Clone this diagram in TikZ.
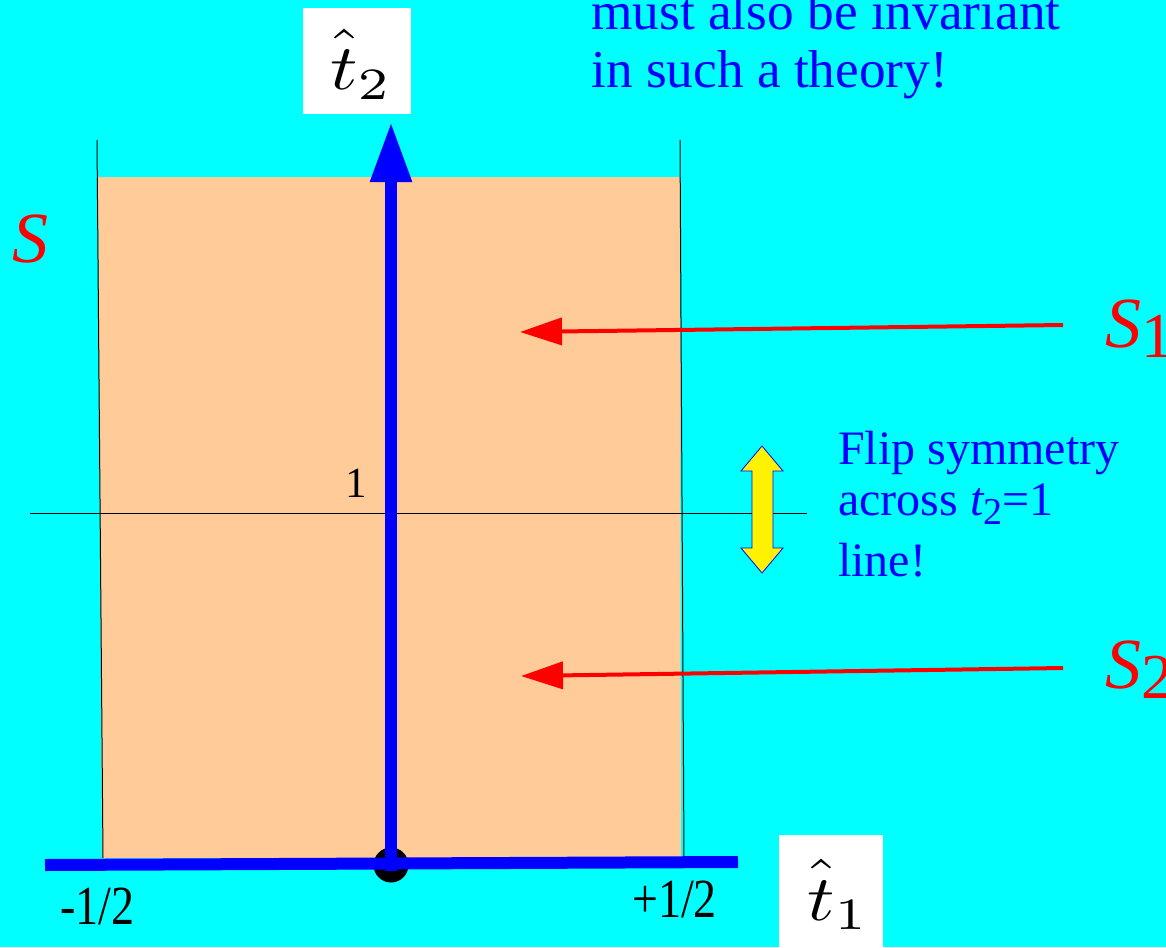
\documentclass[tikz,border=0pt]{standalone}
\usepackage{fontspec}
\newfontfamily\lib{Liberation Serif}
\usetikzlibrary{arrows.meta}
\definecolor{bgcyan}{RGB}{0,255,255}
\definecolor{peach}{RGB}{255,204,153}
\definecolor{pblue}{RGB}{0,0,255}
\definecolor{pred}{RGB}{255,0,0}
\tikzset{
  thinline/.style={black, line width=1pt},
  axisline/.style={pblue, line width=11.5pt},
  redarrow/.style={pred, line width=4pt, -{Triangle[length=42pt,width=27pt]}},
  bluetext/.style={pblue, anchor=base west, inner sep=0pt, font=\lib\fontsize{53.3}{60}\selectfont},
  fliptext/.style={pblue, anchor=base west, inner sep=0pt, font=\lib\fontsize{48}{56}\selectfont},
  redlabel/.style={pred, anchor=base west, inner sep=0pt, font=\lib\fontsize{72}{72}\selectfont\itshape},
  numlabel/.style={black, anchor=base west, inner sep=0pt, font=\lib\fontsize{46}{46}\selectfont},
  whitebox/.style={fill=white, draw=none},
  mathlabel/.style={black, anchor=base west, inner sep=0pt, xscale=7.6, yscale=6.4}
}
\begin{document}
\begin{tikzpicture}[x=1pt,y=-1pt]
\useasboundingbox (0,0) rectangle (1166,947);
\clip (0,0) rectangle (1166,947);
\fill[bgcyan] (0,0) rectangle (1166,947);
% peach region
\fill[peach] (98,177) -- (680,177) -- (681,858) -- (102,858) -- cycle;
% thin lines
\draw[thinline] (97,140) -- (103,858);
\draw[thinline] (680,140) -- (684,858);
\coordinate (hl) at (30,513);
\coordinate (hr) at (807,513);
\draw[thinline] (hl) -- (hr);
% origin dot
\coordinate (origin) at (391,865);
\fill[black] (origin) circle (17.5);
% axes
\coordinate (t2base) at (391,871);
\coordinate (t2top) at (391,122);
\draw[axisline, -{Triangle[length=60pt,width=39pt]}] (t2base) -- (t2top);
\coordinate (t1left) at (45,865);
\coordinate (t1right) at (738,862);
\draw[axisline, line width=12pt] (t1left) -- (t1right);
% axis label boxes
\fill[whitebox] (303,8) rectangle (411,114);
\node[mathlabel] (t2lab) at (329,90) {$\hat{\vphantom{T}\smash{t}}_2$};
\fill[whitebox] (779,835) rectangle (883,947);
\node[mathlabel] (t1lab) at (806,920) {$\hat{\vphantom{T}\smash{t}}_1$};
% numbers
\node[numlabel, font=\lib\fontsize{43}{43}\selectfont] (one) at (345,497) {1};
\node[numlabel, yscale=1.2] (mhalf) at (60,924) {-1/2};
\node[numlabel, yscale=1.2] (phalf) at (632,917) {+1/2};
% S labels
\node[redlabel] (S) at (12,262) {S};
\node[redlabel] (S1) at (1105,347) {S\raisebox{-10pt}{\upshape\fontsize{64}{64}\selectfont 1}};
\node[redlabel] (S2) at (1105,688) {S\raisebox{-10pt}{\upshape\fontsize{64}{64}\selectfont 2}};
% red arrows
\coordinate (s1a) at (1063,325);
\coordinate (s1b) at (520,332);
\draw[redarrow] (s1a) -- (s1b);
\coordinate (s2a) at (1063,668);
\coordinate (s2b) at (521,676);
\draw[redarrow] (s2a) -- (s2b);
% yellow double arrow
\fill[yellow, draw=pblue, line width=0.8pt] (762,446) -- (783,471) -- (773,471) -- (773,548) -- (783,548) -- (762,573) -- (741,548) -- (752,548) -- (752,471) -- (741,471) -- cycle;
% texts
\node[bluetext] (top1) at (591,30) {must also be invariant};
\node[bluetext] (top2) at (591,88) {in such a theory!};
\node[fliptext] (f1) at (838,464) {Flip symmetry};
\node[fliptext] (f2) at (838,515) {across {\itshape t}\raisebox{-9pt}{\fontsize{38}{38}\selectfont 2}=1};
\node[fliptext] (f3) at (838,576) {line!};
\end{tikzpicture}
\end{document}
